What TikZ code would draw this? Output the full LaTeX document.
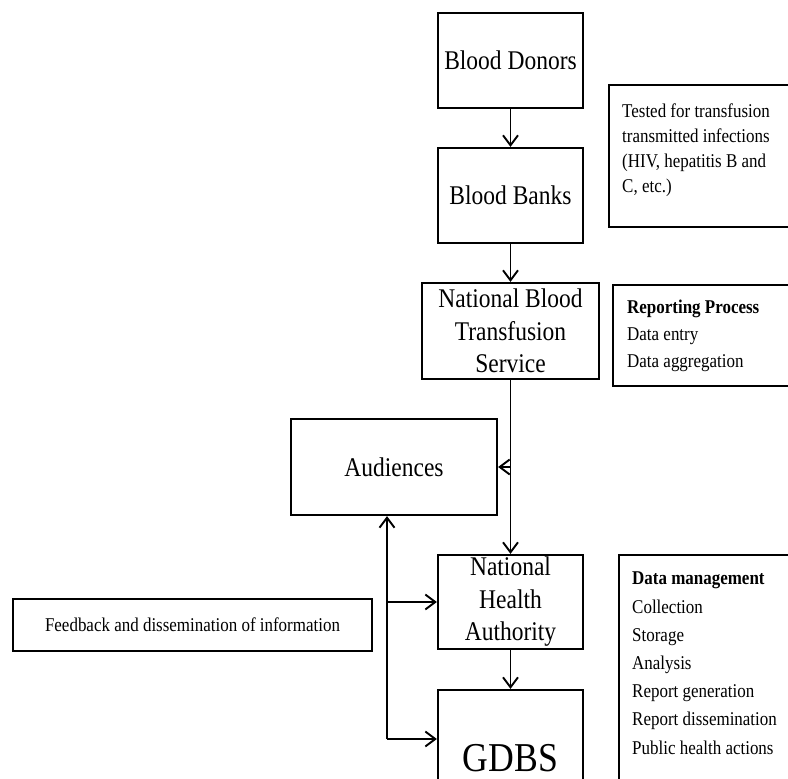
\documentclass[tikz,border=0pt]{standalone}
\usepackage{fontspec}
\setmainfont{Liberation Serif}[FakeStretch=0.87]
\usetikzlibrary{arrows.meta}

\begin{document}
\begin{tikzpicture}[x=1pt,y=-1pt,
    box/.style={draw,line width=2.2pt,inner sep=0pt,align=center},
    big/.style={font=\fontsize{27}{32.5}\selectfont},
    txt/.style={inner sep=0pt,align=left,anchor=north west},
    arr/.style={-{Straight Barb[length=10pt,width=15pt]},line width=1.9pt}]
    \useasboundingbox (0,0) rectangle (788,779);
    \fill[white] (0,0) rectangle (788,779);
    \clip (0,0) rectangle (788,779);
    % main chain
    \node[box,big,minimum width=145,minimum height=95] (donors) at (510.5,60.5) {Blood Donors};
    \node[box,big,minimum width=145,minimum height=95] (banks) at (510.5,195.5) {Blood Banks};
    \node[box,big,minimum width=177,minimum height=96] (nbts) at (510.5,331) {National Blood\\Transfusion\\Service};
    \node[box,big,minimum width=206,minimum height=96] (audiences) at (394,467) {Audiences};
    \node[box,big,minimum width=145,minimum height=94] (nha) at (510.5,602) {National\\Health\\Authority};
    \node[box,font=\fontsize{41}{48}\selectfont,minimum width=145,minimum height=136] (gdbs) at (510.5,758) {GDBS};
    \node[box,font=\fontsize{19.5}{24}\selectfont,minimum width=359,minimum height=52] (feedback) at (192.5,625) {Feedback and dissemination of information};
    % side notes
    \node[box,minimum width=211,minimum height=142] (tested) at (714.5,156) {};
    \node[txt,font=\fontsize{19.5}{25}\selectfont] (tested-txt) at (622,103.7) {Tested for transfusion\\transmitted infections\\(HIV, hepatitis B and\\C, etc.)};
    \node[box,minimum width=207,minimum height=101] (reporting) at (716.5,335.5) {};
    \node[txt,font=\fontsize{19.5}{27}\selectfont] (reporting-txt) at (627,300) {\textbf{Reporting Process}\\Data entry\\Data aggregation};
    \node[box,minimum width=201,minimum height=275] (datamgmt) at (719.5,692.5) {};
    \node[txt,font=\fontsize{19.5}{28.2}\selectfont] (datamgmt-txt) at (632,572) {\textbf{Data management}\\Collection\\Storage\\Analysis\\Report generation\\Report dissemination\\Public health actions};
    % arrows
    \draw[arr] (donors) -- (banks);
    \draw[arr] (banks) -- (nbts);
    \draw[arr] (nbts) -- (nha);
    \draw[arr] (nha) -- (gdbs);
    \draw[arr] (nbts.south |- audiences.east) -- (audiences.east);
    \coordinate (fb) at (387,739);
    \draw[arr] (fb) -- (fb |- audiences.south);
    \draw[arr] (fb |- nha.west) -- (nha.west);
    \draw[arr] (fb) -- (fb -| gdbs.west);
\end{tikzpicture}
\end{document}
